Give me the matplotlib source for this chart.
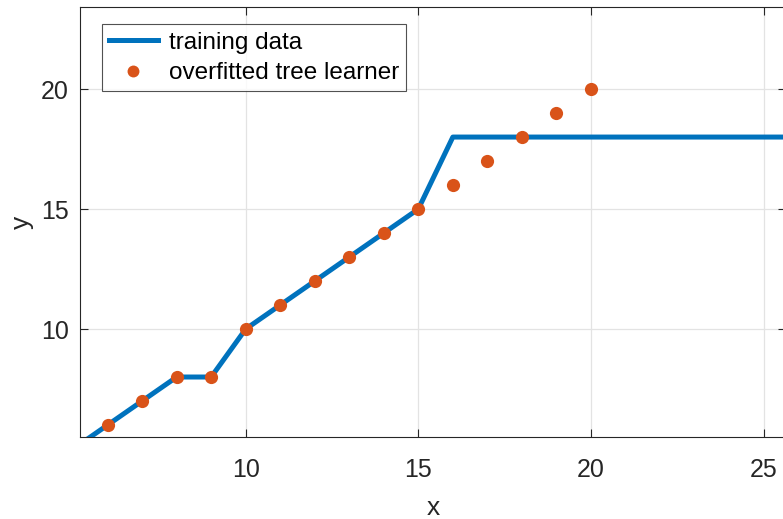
import numpy as np
import matplotlib
matplotlib.use("Agg")
import matplotlib.pyplot as plt

# training data (piecewise linear) and tree learner predictions
train_x = [5, 6, 7, 8, 9, 10, 11, 12, 13, 14, 15, 16, 17, 18, 19, 20, 21, 22, 23, 24, 25, 26, 27]
train_y = [5, 6, 7, 8, 8, 10, 11, 12, 13, 14, 15, 18, 18, 18, 18, 18, 18, 18, 18, 18, 18, 18, 18]

tree_x = [6, 7, 8, 9, 10, 11, 12, 13, 14, 15, 16, 17, 18, 19, 20]
tree_y = [6, 7, 8, 8, 10, 11, 12, 13, 14, 15, 16, 17, 18, 19, 20]

x_ticks = [10, 15, 20, 25]
y_ticks = [10, 15, 20]

plt.rcParams['font.family'] = ['Liberation Sans', 'DejaVu Sans']

fig = plt.figure(figsize=(7.83, 5.19), dpi=100, facecolor='white')
W, H = 783, 519
ax = fig.add_axes([80 / W, (H - 437) / H, (786 - 80) / W, (437 - 7) / H])

ax.plot(train_x, train_y, color='#0072BD', linewidth=3.6, label='training data', zorder=3)
ax.plot(tree_x, tree_y, linestyle='none', marker='o', markersize=9.5,
        color='#D95319', markeredgewidth=0, label='overfitted tree learner', zorder=4)

ax.set_xlim(5.2, 25.65)
ax.set_ylim(5.5, 23.42)
ax.set_xticks(x_ticks)
ax.set_yticks(y_ticks)

ax.grid(True, color='#e3e3e3', linewidth=0.9)
ax.set_axisbelow(True)

for s in ax.spines.values():
    s.set_color('#262626')
    s.set_linewidth(0.8)

ax.tick_params(direction='in', length=6, width=0.8, color='#262626',
               labelsize=18, labelcolor='#262626', top=True, right=True)
ax.tick_params(axis='x', pad=15)
ax.tick_params(axis='y', pad=8)

ax.set_xlabel('x', fontsize=19, color='#262626', labelpad=10)
ax.set_ylabel('y', fontsize=19, color='#262626', labelpad=5)

leg = ax.legend(loc='upper left', bbox_to_anchor=(0.031, 0.96), fontsize=17.5,
                frameon=True, fancybox=False, edgecolor='#262626',
                handlelength=2.0, handletextpad=0.45, borderpad=0.3,
                labelspacing=0.35, borderaxespad=0, markerscale=0.9)
leg.get_frame().set_linewidth(0.8)

fig.savefig('out.png', dpi=100, facecolor='white')
